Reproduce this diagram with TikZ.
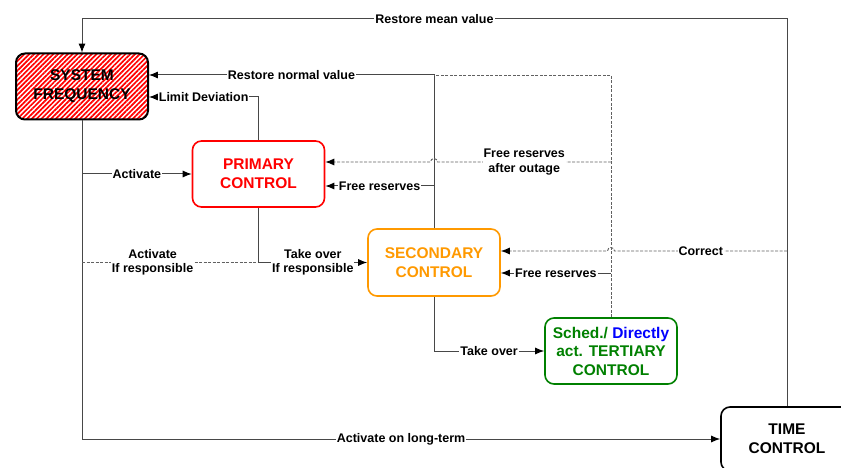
\documentclass[tikz,border=0pt]{standalone}
\usepackage{fontspec}
\setmainfont{Liberation Sans}
\usetikzlibrary{arrows.meta,calc,patterns.meta}

\definecolor{secorange}{RGB}{255,153,0}
\definecolor{tergreen}{RGB}{0,128,0}

\begin{document}
\begin{tikzpicture}[x=1pt, y=-1pt,
	box/.style={draw, rectangle, rounded corners=9pt, minimum width=132pt, minimum height=66pt, align=center, font=\fontsize{15.5}{19}\selectfont\bfseries, line width=1.6pt},
	lbl/.style={fill=white, inner sep=1pt, align=center, font=\fontsize{12.5}{14.5}\selectfont\bfseries},
	conn/.style={draw=black!72, line width=1pt},
	arr/.style={conn, -{Latex[length=9pt, width=7pt, black]}},
	dline/.style={draw=black!62, line width=0.9pt, dash pattern=on 3pt off 1.5pt},
	darr/.style={dline, -{Latex[length=9pt, width=7pt, black]}}]

	\useasboundingbox (0,0) rectangle (841,468);

	% boxes
	\node[box, line width=2pt, pattern={Lines[angle=45, distance=3.4pt, line width=1.7pt]}, pattern color=red] (SF)at(82, 86.5) {SYSTEM\\FREQUENCY};
	\node[box, draw=red, text=red] (PC)at(258.5, 174) {PRIMARY\\CONTROL};
	\node[box, draw=secorange, text=secorange, minimum height=67pt] (SC)at(434, 262.5) {SECONDARY\\CONTROL};
	\node[box, draw=tergreen, text=tergreen, font=\fontsize{15.5}{18.5}\selectfont\bfseries] (TER)at(611, 351) {Sched./ \textcolor{blue}{Directly}\\act. TERTIARY\\CONTROL};
	\node[box, minimum height=64pt] (TC)at(787, 439) {TIME\\CONTROL};

	% line levels
	\coordinate (top) at (0, 19);
	\coordinate (rnv) at (0, 75);
	\coordinate (ldv) at (0, 97);
	\coordinate (fro) at (0, 162);
	\coordinate (frp) at (0, 186);
	\coordinate (cor) at (0, 251);
	\coordinate (frs) at (0, 273);

	% connectors
	\draw[arr] (TC.north) -- (TC.north |- top) -| node[lbl, pos=0.25] {Restore mean value} (SF.north);
	\draw[arr] (SC.north) |- node[lbl, pos=0.75] {Restore normal value} (SF.east |- rnv);
	\draw[dline] (TER.north) |- (SC.north |- rnv);
	\draw[darr] (TER.north |- fro) -- node[lbl] {Free reserves\\after outage} ($(SC.north |- fro)+(3.5,0)$) arc[start angle=0, end angle=-180, radius=3.5] -- (PC.east |- fro);
	\draw[arr] (SC.north |- frp) -- node[lbl] {Free reserves} (PC.east |- frp);
	\draw[arr] (PC.north) |- node[lbl, pos=0.75] {Limit Deviation} (SF.east |- ldv);
	\draw[arr] (SF.south) |- node[lbl, pos=0.75] {Activate} (PC.west);
	\draw[arr] (SF.south) |- node[lbl, pos=0.75] {Activate on long-term} (TC.west);
	\draw[dline] (SF.south |- SC.west) -- node[lbl, pos=0.4] {Activate\\If responsible} (PC.south |- SC.west);
	\draw[arr] (PC.south) |- node[lbl, pos=0.75] {Take over\\If responsible} (SC.west);
	\draw[arr] (SC.south) |- node[lbl, pos=0.75] {Take over} (TER.west);
	\draw[arr] (TER.north |- frs) -- node[lbl] {Free reserves} (SC.east |- frs);
	\draw[darr] (TC.north |- cor) -- node[lbl] {Correct} ($(TER.north |- cor)+(3.5,0)$) arc[start angle=0, end angle=-180, radius=3.5] -- (SC.east |- cor);
\end{tikzpicture}
\end{document}
